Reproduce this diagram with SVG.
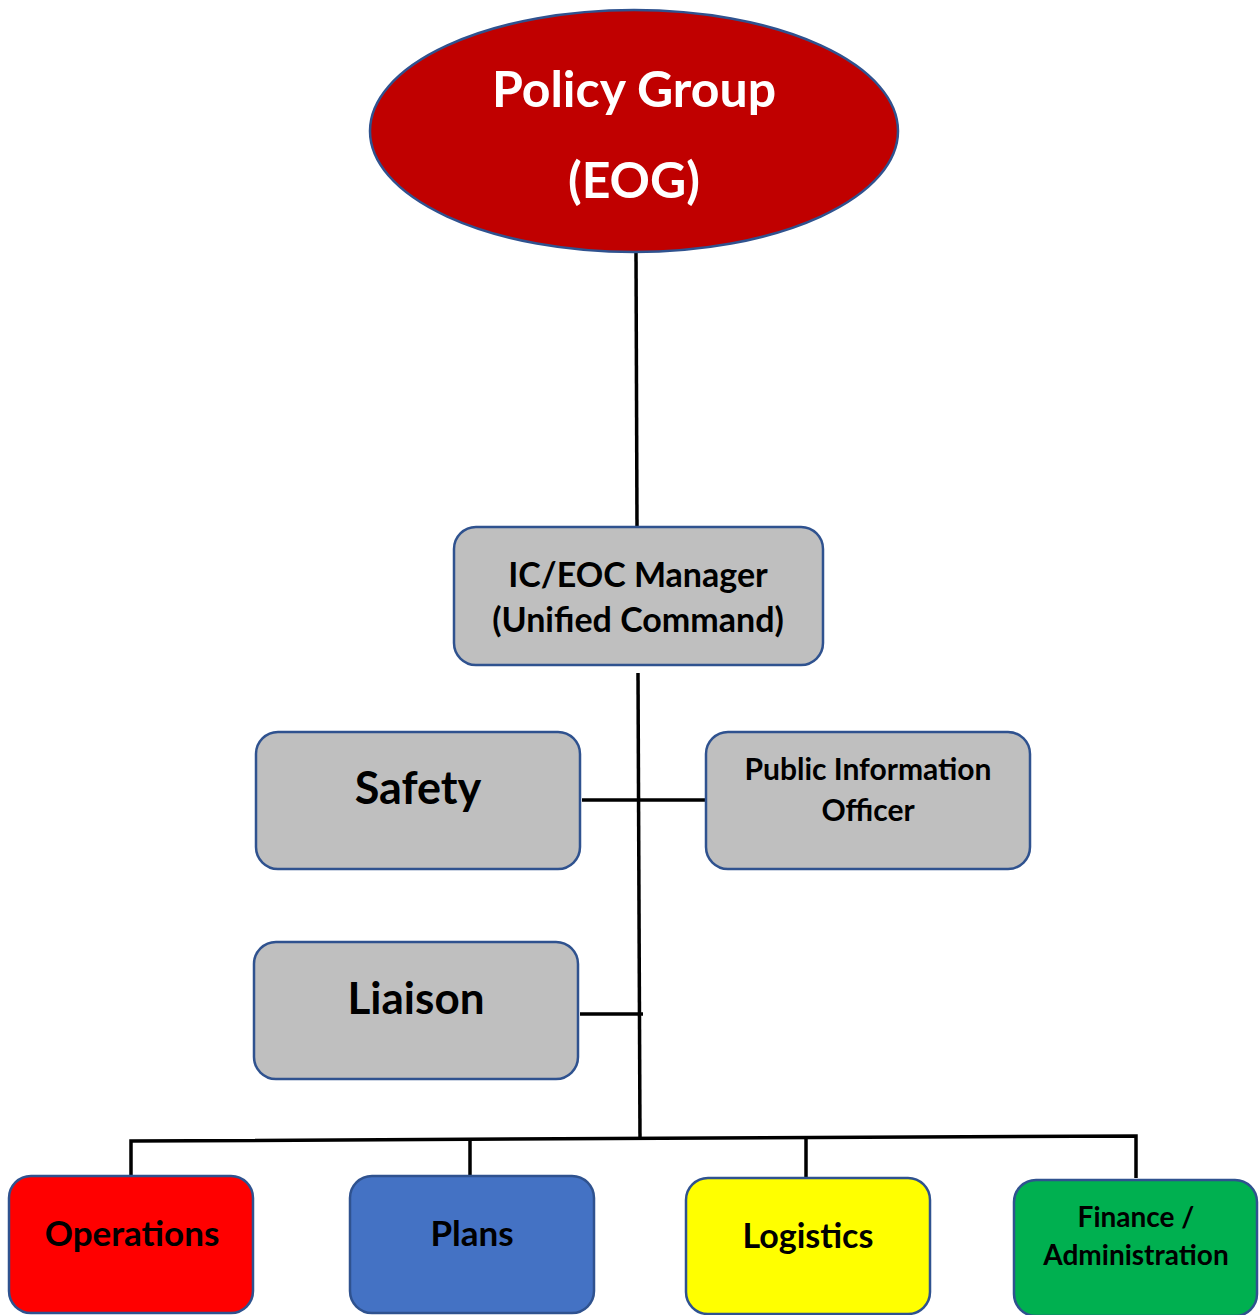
<svg xmlns="http://www.w3.org/2000/svg" width="1259" height="1315" viewBox="0 0 1259 1315">
<style>
.box{stroke:#2F528F;stroke-width:2.5}
.t{font-family:Lato,"Open Sans","Liberation Sans",sans-serif;font-weight:bold;text-anchor:middle;fill:#000}
.w{fill:#fff}
.c{stroke:#000;stroke-width:3.5;fill:none}
</style>
<rect width="1259" height="1315" fill="#fff"/>
<g id="connectors">
<line class="c" x1="636" y1="252" x2="637" y2="527"/>
<line class="c" x1="638" y1="673" x2="640" y2="1138"/>
<line class="c" x1="582" y1="800" x2="706" y2="800"/>
<line class="c" x1="580" y1="1014" x2="643" y2="1014"/>
<polyline class="c" points="131,1181 131,1141 1136,1136 1136,1178"/>
<line class="c" x1="470" y1="1139" x2="470" y2="1176"/>
<line class="c" x1="806" y1="1137" x2="806" y2="1178"/>
</g>
<g id="policy">
<ellipse cx="634" cy="131" rx="264" ry="121" fill="#C00000" class="box"/>
<text class="t w" x="634" y="107" font-size="50">Policy Group</text>
<text class="t w" x="634" y="198" font-size="50">(EOG)</text>
</g>
<g id="ic">
<rect x="454" y="527" width="369" height="138" rx="22" fill="#BFBFBF" class="box"/>
<text class="t" x="638" y="587" font-size="34">IC/EOC Manager</text>
<text class="t" x="638" y="632" font-size="34">(Unified Command)</text>
</g>
<g id="safety">
<rect x="256" y="732" width="324" height="137" rx="22" fill="#BFBFBF" class="box"/>
<text class="t" x="418" y="804" font-size="45">Safety</text>
</g>
<g id="pio">
<rect x="706" y="732" width="324" height="137" rx="22" fill="#BFBFBF" class="box"/>
<text class="t" x="868" y="780" font-size="30">Public Information</text>
<text class="t" x="868" y="821" font-size="30">Officer</text>
</g>
<g id="liaison">
<rect x="254" y="942" width="324" height="137" rx="22" fill="#BFBFBF" class="box"/>
<text class="t" x="416" y="1014" font-size="44">Liaison</text>
</g>
<g id="operations">
<rect x="9" y="1176" width="244" height="137" rx="22" fill="#FF0000" class="box"/>
<text class="t" x="132" y="1246" font-size="35">Operations</text>
</g>
<g id="plans">
<rect x="350" y="1176" width="244" height="137" rx="22" fill="#4472C4" class="box"/>
<text class="t" x="472" y="1246" font-size="35">Plans</text>
</g>
<g id="logistics">
<rect x="686" y="1178" width="244" height="136" rx="22" fill="#FFFF00" class="box"/>
<text class="t" x="808" y="1248" font-size="34">Logistics</text>
</g>
<g id="finance">
<rect x="1014" y="1180" width="243" height="136" rx="22" fill="#00B050" class="box"/>
<text class="t" x="1136" y="1227" font-size="28">Finance /</text>
<text class="t" x="1136" y="1265" font-size="28">Administration</text>
</g>
</svg>
